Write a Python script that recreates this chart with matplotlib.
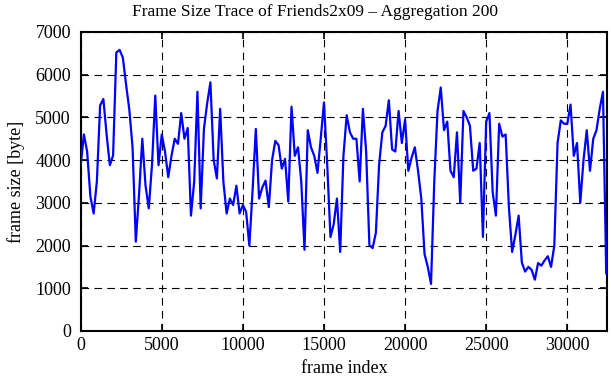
import matplotlib
matplotlib.use("Agg")
import matplotlib.pyplot as plt

# Aggregated frame sizes (bytes), one value every 200 frames
agg_step = 200
frame_size = [
    3880, 4600, 4200, 3150, 2750, 3500, 5280, 5430, 4600, 3880,
    4110, 6520, 6580, 6400, 5770, 5180, 4300, 2090, 3200, 4500,
    3400, 2870, 3900, 5510, 3880, 4600, 4200, 3600, 4100, 4500,
    4380, 5100, 4500, 4750, 2700, 3500, 5600, 2870, 4730, 5330,
    5820, 4000, 3570, 5200, 3490, 2750, 3100, 2950, 3400, 2750,
    2950, 2790, 2000, 3300, 4730, 3100, 3360, 3520, 2900, 4000,
    4450, 4350, 3800, 4030, 3030, 5250, 4100, 4300, 3500, 1900,
    4700, 4300, 4100, 3700, 4500, 5350, 3900, 2200, 2500, 3100,
    1850, 4100, 5050, 4650, 4500, 4500, 3500, 5200, 4200, 2010,
    1940, 2300, 3900, 4650, 4800, 5400, 4250, 4200, 5150, 4400,
    4950, 3750, 4050, 4300, 3750, 3100, 1800, 1500, 1100, 3500,
    5150, 5700, 4700, 4900, 3750, 3600, 4650, 3000, 5150, 5000,
    4800, 3750, 3800, 4400, 2200, 4900, 5100, 3250, 2700, 4850,
    4550, 4600, 2900, 1850, 2250, 2700, 1600, 1390, 1500, 1430,
    1200, 1590, 1530, 1650, 1750, 1500, 2000, 4400, 4930, 4850,
    4850, 5300, 4100, 4400, 3000, 4000, 4700, 3750, 4500, 4700,
    5200, 5600, 1350,
]
frame_index = [i * agg_step for i in range(len(frame_size))]

x_ticks = [0, 5000, 10000, 15000, 20000, 25000, 30000]
y_ticks = [0, 1000, 2000, 3000, 4000, 5000, 6000, 7000]
x_max = 32450
y_max = 7000

plt.rcParams['font.family'] = ['Liberation Serif', 'DejaVu Serif']
plt.rcParams['font.size'] = 13
plt.rcParams['lines.scale_dashes'] = False

fig = plt.figure(figsize=(6.11, 3.80), dpi=100)
ax = fig.add_axes([0.132, 0.129, 0.9935 - 0.132, 0.916 - 0.129])

ax.plot(frame_index, frame_size, color='#0000ff', linewidth=1.6, zorder=3)

ax.set_xlim(0, x_max)
ax.set_ylim(0, y_max)
ax.set_xticks(x_ticks)
ax.set_yticks(y_ticks)
ax.grid(True, color='black', linestyle=(0, (5.5, 3.8)), linewidth=0.8)
ax.set_axisbelow(True)

ax.tick_params(direction='in', length=5, width=1.2, top=True, right=True,
               labelsize=13, colors='black')
ax.tick_params(axis='y', pad=7)
ax.tick_params(axis='x', pad=4)
for s in ax.spines.values():
    s.set_linewidth(1.5)
    s.set_color('black')

fig.text(0.516, 0.968, 'Frame Size Trace of Friends2x09 \u2013 Aggregation 200',
         fontsize=12.5, ha='center', va='center')
ax.set_xlabel('frame index', fontsize=13, labelpad=5)
ax.set_ylabel('frame size [byte]', fontsize=13, labelpad=7)

fig.savefig('out.png', dpi=100)
